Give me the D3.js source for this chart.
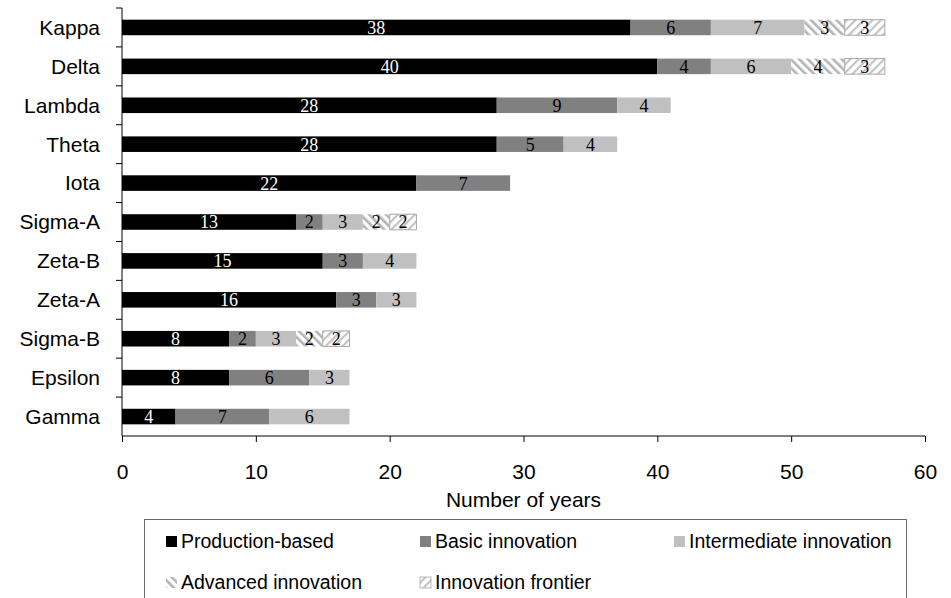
<!DOCTYPE html>
<html>
<head>
<meta charset="utf-8">
<script src="https://cdn.jsdelivr.net/npm/d3@7"></script>
<style>
  html, body { margin: 0; padding: 0; background: #fff; }
  svg { display: block; }
</style>
</head>
<body>
<svg id="chart" width="951" height="598"></svg>
<script>
// Countries/phases in display order (top to bottom)
const categories = ["Kappa", "Delta", "Lambda", "Theta", "Iota", "Sigma-A", "Zeta-B", "Zeta-A", "Sigma-B", "Epsilon", "Gamma"];
const seriesNames = ["Production-based", "Basic innovation", "Intermediate innovation", "Advanced innovation", "Innovation frontier"];
const productionBased      = [38, 40, 28, 28, 22, 13, 15, 16, 8, 8, 4];
const basicInnovation      = [6, 4, 9, 5, 7, 2, 3, 3, 2, 6, 7];
const intermediateInnov    = [7, 6, 4, 4, 0, 3, 4, 3, 3, 3, 6];
const advancedInnovation   = [3, 4, 0, 0, 0, 2, 0, 0, 2, 0, 0];
const innovationFrontier   = [3, 3, 0, 0, 0, 2, 0, 0, 2, 0, 0];
const xTicks = [0, 10, 20, 30, 40, 50, 60];

const seriesValues = [productionBased, basicInnovation, intermediateInnov, advancedInnovation, innovationFrontier];
const table = categories.map((c, i) => {
  const row = { category: c };
  seriesNames.forEach((s, k) => { row[s] = seriesValues[k][i]; });
  return row;
});

const svg = d3.select("#chart");
const margin = { left: 122, top: 8, right: 26, bottom: 162 };
const W = 951, H = 598;
const SANS = "'Liberation Sans', Arial, sans-serif";
const SERIF = "'Liberation Serif', 'Times New Roman', serif";

const x = d3.scaleLinear().domain([0, 60]).range([margin.left, W - margin.right]);
const y = d3.scaleBand().domain(categories).range([margin.top, H - margin.bottom]).paddingInner(0.6).paddingOuter(0.3);

// Hatch patterns for the two most advanced stages
const defs = svg.append("defs");
const adv = defs.append("pattern").attr("id", "hatchAdvanced").attr("patternUnits", "userSpaceOnUse")
  .attr("width", 6).attr("height", 6).attr("patternTransform", "rotate(-45)");
adv.append("rect").attr("width", 6).attr("height", 6).attr("fill", "#fff");
adv.append("rect").attr("x", 0).attr("width", 2.6).attr("height", 6).attr("fill", "#b4b4b4");
const fro = defs.append("pattern").attr("id", "hatchFrontier").attr("patternUnits", "userSpaceOnUse")
  .attr("width", 6).attr("height", 6).attr("patternTransform", "rotate(45)");
fro.append("rect").attr("width", 6).attr("height", 6).attr("fill", "#fff");
fro.append("rect").attr("x", 0).attr("width", 2.2).attr("height", 6).attr("fill", "#c4c4c4");

const fills = {
  "Production-based": "#000000",
  "Basic innovation": "#808080",
  "Intermediate innovation": "#c0c0c0",
  "Advanced innovation": "url(#hatchAdvanced)",
  "Innovation frontier": "url(#hatchFrontier)"
};
const strokes = {
  "Production-based": "none",
  "Basic innovation": "none",
  "Intermediate innovation": "none",
  "Advanced innovation": "none",
  "Innovation frontier": "#a8a8a8"
};

const stacked = d3.stack().keys(seriesNames)(table);

const layers = svg.append("g").selectAll("g").data(stacked).join("g")
  .attr("fill", d => fills[d.key]);

layers.selectAll("rect").data(d => d.filter(p => p[1] > p[0]).map(p => ({ p, key: d.key }))).join("rect")
  .attr("x", d => x(d.p[0]))
  .attr("y", d => y(d.p.data.category))
  .attr("width", d => x(d.p[1]) - x(d.p[0]))
  .attr("height", y.bandwidth())
  .attr("stroke", d => strokes[d.key])
  .attr("stroke-width", 1);

// Value labels in each segment
layers.selectAll("text").data(d => d.filter(p => p[1] > p[0]).map(p => ({ p, key: d.key }))).join("text")
  .attr("x", d => (x(d.p[0]) + x(d.p[1])) / 2)
  .attr("y", d => y(d.p.data.category) + y.bandwidth() / 2)
  .attr("dy", "0.36em")
  .attr("text-anchor", "middle")
  .attr("font-family", SERIF)
  .attr("font-size", 18)
  .attr("fill", d => d.key === "Production-based" ? "#fff" : "#000")
  .text(d => d.p[1] - d.p[0]);

// Y axis: category labels with ticks on band boundaries
const yAxisG = svg.append("g");
yAxisG.append("line")
  .attr("x1", margin.left).attr("x2", margin.left)
  .attr("y1", margin.top).attr("y2", H - margin.bottom)
  .attr("stroke", "#000");
const boundaries = categories.map(c => y(c) - y.step() * y.paddingInner() / 2);
yAxisG.selectAll("line.tick").data(boundaries).join("line")
  .attr("class", "tick")
  .attr("x1", margin.left - 6).attr("x2", margin.left)
  .attr("y1", d => d).attr("y2", d => d)
  .attr("stroke", "#000");
yAxisG.selectAll("text").data(categories).join("text")
  .attr("x", margin.left - 22)
  .attr("y", d => y(d) + y.bandwidth() / 2)
  .attr("dy", "0.35em")
  .attr("text-anchor", "end")
  .attr("font-family", SANS)
  .attr("font-size", 21)
  .attr("fill", "#000")
  .text(d => d);

// X axis
const xAxis = d3.axisBottom(x).tickValues(xTicks).tickSize(6).tickPadding(22);
const xg = svg.append("g").attr("transform", `translate(0,${H - margin.bottom})`).call(xAxis);
xg.select(".domain").attr("stroke", "#000").attr("d", `M${x(0)},0H${x(60)}`);
xg.selectAll(".tick line").attr("stroke", "#000");
xg.selectAll(".tick text")
  .attr("font-family", SANS)
  .attr("font-size", 21)
  .attr("fill", "#000");

svg.append("text")
  .attr("x", (x(0) + x(60)) / 2)
  .attr("y", 507)
  .attr("text-anchor", "middle")
  .attr("font-family", SANS)
  .attr("font-size", 21)
  .attr("fill", "#000")
  .text("Number of years");

// Legend
const legend = svg.append("g");
legend.append("rect")
  .attr("x", 144.5).attr("y", 519.5).attr("width", 762).attr("height", 100)
  .attr("fill", "none").attr("stroke", "#6a6a6a");
const legendPos = [
  { x: 166, y: 548 }, { x: 420, y: 548 }, { x: 674, y: 548 },
  { x: 166, y: 589 }, { x: 420, y: 589 }
];
seriesNames.forEach((s, i) => {
  const p = legendPos[i];
  legend.append("rect")
    .attr("x", p.x).attr("y", p.y - 12).attr("width", 11).attr("height", 11)
    .attr("fill", fills[s])
    .attr("stroke", strokes[s])
    .attr("stroke-width", 0.8);
  legend.append("text")
    .attr("x", p.x + 15).attr("y", p.y)
    .attr("font-family", SANS)
    .attr("font-size", 19.5)
    .attr("fill", "#000")
    .text(s);
});
</script>
</body>
</html>
